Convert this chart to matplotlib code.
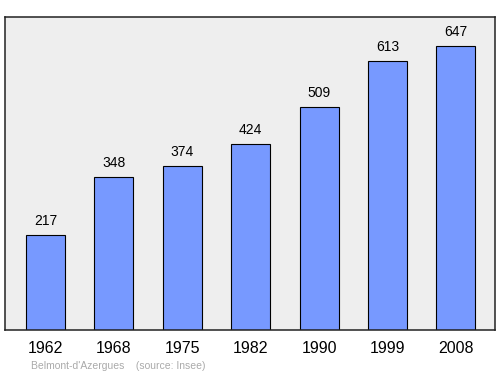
import matplotlib.pyplot as plt

plt.rcParams['font.family'] = ['Liberation Sans', 'DejaVu Sans']

years = ["1962", "1968", "1975", "1982", "1990", "1999", "2008"]
population = [217, 348, 374, 424, 509, 613, 647]

fig = plt.figure(figsize=(5, 3.74), dpi=100)
ax = fig.add_axes([0.01, 0.1176, 0.98, 0.837])
ax.set_facecolor("#eeeeee")

x = range(len(years))
bars = ax.bar(x, population, width=0.57, color="#7799ff", edgecolor="black", linewidth=0.8)

for b, v in zip(bars, population):
    ax.annotate(str(v), (b.get_x() + b.get_width() / 2, v), xytext=(0, 5),
                textcoords="offset points", ha="center", va="bottom", fontsize=10)

ax.set_xlim(-0.59, 6.57)
ax.set_ylim(0, 713)
ax.set_xticks(list(x))
ax.set_xticklabels(years, fontsize=11.5)
ax.tick_params(axis="x", length=0, pad=8)
ax.set_yticks([])
for s in ax.spines.values():
    s.set_linewidth(1.1)
    s.set_edgecolor("#222222")

fig.text(0.062, 0.013, "Belmont-d'Azergues    (source: Insee)", fontsize=7.5, color="#aaaaaa")

fig.savefig("out.png", dpi=100)
